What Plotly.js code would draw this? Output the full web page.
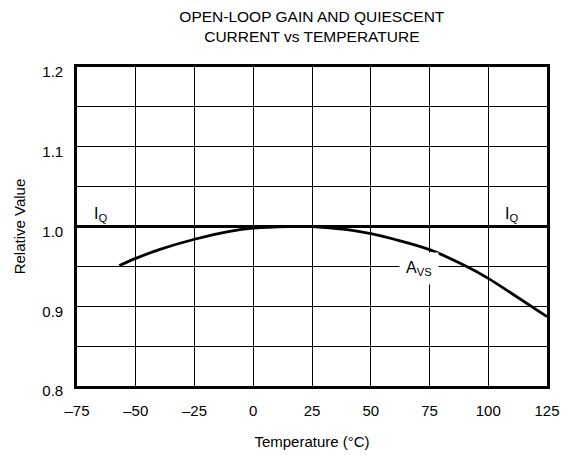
<!DOCTYPE html>
<html><head><meta charset="utf-8">
<script src="https://cdn.plot.ly/plotly-3.0.1.min.js"></script>
<style>body{margin:0;background:#fff}#c{width:567px;height:455px}</style>
</head><body><div id="c"></div>
<script>
const tempAvs = [-57, -50, -40, -25, -10, 0, 15, 25, 40, 50, 60, 75, 90, 100, 110, 125];
const avs =     [0.951, 0.960, 0.971, 0.984, 0.994, 0.998, 1.0, 1.0, 0.996, 0.991, 0.984, 0.971, 0.951, 0.935, 0.916, 0.887];
const tempIq = [-75, 125];
const iq = [1.0, 1.0];
const xTickVals = [-75, -50, -25, 0, 25, 50, 75, 100, 125];
const xTickText = ['–75', '–50', '–25', '0', '25', '50', '75', '100', '125'];
const yTickVals = [0.8, 0.85, 0.9, 0.95, 1.0, 1.05, 1.1, 1.15, 1.2];
const yTickText = ['0.8', '', '0.9', '', '1.0', '', '1.1', '', '1.2'];

const font = {family: 'Liberation Sans, Arial, sans-serif', color: '#000'};
const f = s => Object.assign({size: s}, font);
const data = [
  {x: tempIq, y: iq, mode: 'lines', line: {color: '#000', width: 2.8}, hoverinfo: 'skip'},
  {x: tempAvs, y: avs, mode: 'lines', line: {color: '#000', width: 2.8, shape: 'spline'}, hoverinfo: 'skip'}
];
const layout = {
  width: 567, height: 455,
  margin: {l: 77, r: 20, t: 67, b: 69},
  paper_bgcolor: '#fff', plot_bgcolor: '#fff',
  showlegend: false,
  font: f(15),
  title: {text: 'OPEN-LOOP GAIN AND QUIESCENT<br>CURRENT vs TEMPERATURE', x: 0.55, xanchor: 'center', y: 0.951, yanchor: 'top', font: f(15.5)},
  xaxis: {
    range: [-75, 125], tickvals: xTickVals, ticktext: xTickText,
    showgrid: true, gridcolor: '#000', gridwidth: 1, zeroline: false,
    showline: true, linecolor: '#000', linewidth: 2.8, mirror: true,
    ticks: '', ticklabelstandoff: 9,
    tickfont: f(15),
    title: {text: 'Temperature (°C)', font: f(15), standoff: 19}
  },
  yaxis: {
    range: [0.8, 1.2], tickvals: yTickVals, ticktext: yTickText,
    showgrid: true, gridcolor: '#000', gridwidth: 1, zeroline: false,
    showline: true, linecolor: '#000', linewidth: 2.8, mirror: true,
    ticks: '', ticklabelstandoff: 8, ticklabelshift: 5, tickfont: f(15),
    title: {text: 'Relative Value', font: f(15), standoff: 13}
  },
  annotations: [
    {x: -65, y: 1.0, xref: 'x', yref: 'y', text: 'I<sub>Q</sub>', showarrow: false, xanchor: 'center', yanchor: 'bottom', yshift: 1, font: f(16)},
    {x: 110, y: 1.0, xref: 'x', yref: 'y', text: 'I<sub>Q</sub>', showarrow: false, xanchor: 'center', yanchor: 'bottom', yshift: 1, font: f(16)},
    {x: 70.5, y: 0.95, xref: 'x', yref: 'y', text: 'A<sub>VS</sub>', showarrow: false, xanchor: 'center', yanchor: 'middle', yshift: -2, bgcolor: '#fff', borderpad: 6, font: f(16)}
  ]
};
Plotly.newPlot('c', data, layout, {displayModeBar: false, staticPlot: true});
</script></body></html>
